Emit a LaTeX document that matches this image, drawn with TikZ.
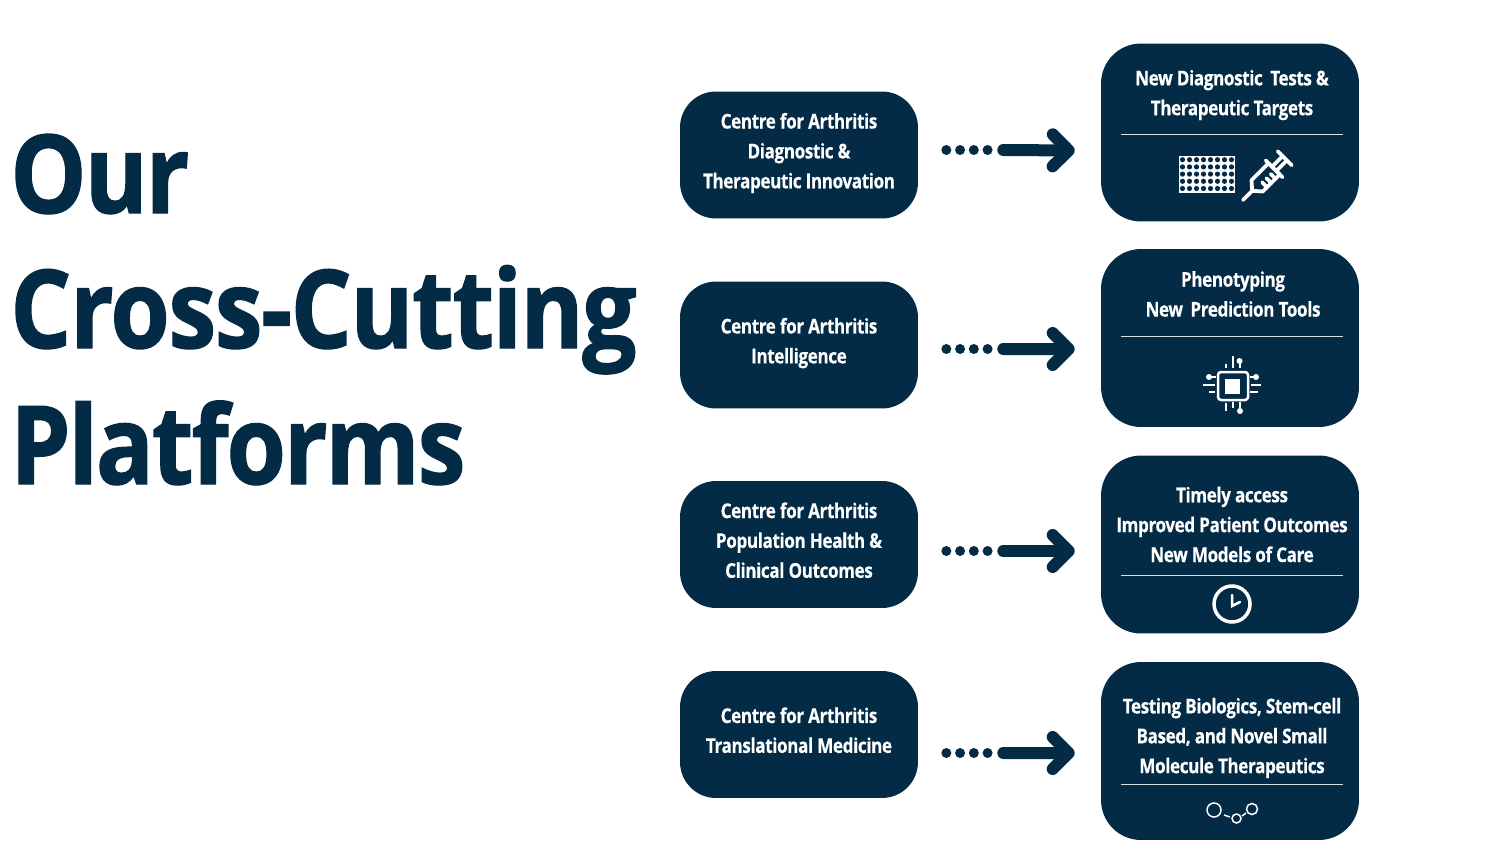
\documentclass[tikz,border=0pt]{standalone}
\usepackage{fontspec}
\setmainfont[FakeStretch=.84,LetterSpace=-2,BoldFeatures={FakeBold=.4}]{Open Sans}
\newfontfamily\titlefont[FakeStretch=.88,LetterSpace=-1.8,BoldFeatures={FakeBold=1.2}]{Open Sans}
\newfontfamily\titlewide[FakeStretch=.88,LetterSpace=-1.2,BoldFeatures={FakeBold=1.2}]{Open Sans}
\usetikzlibrary{arrows.meta}
\definecolor{navy}{HTML}{032B45}
\tikzset{
  lftbox/.style={rectangle, rounded corners=.72cm, fill=navy, text=white, align=center,
          minimum width=4.76cm, minimum height=2.54cm, text depth=5pt,
          font=\fontsize{11.6}{17}\selectfont\bfseries},
  rgtbox/.style={rectangle, rounded corners=.8cm, fill=navy,
          minimum width=5.16cm, minimum height=3.56cm},
  rgttext/.style={text=white, align=center, inner sep=0pt,
          font=\fontsize{11.6}{17}\selectfont\bfseries},
  divider/.style={draw=white!85!navy, line width=.5pt},
  dotline/.style={navy, line width=.2cm, line cap=round, dash pattern=on 0pt off .275cm},
  arrowline/.style={navy, line width=.24cm, line cap=round, -{Straight Barb[round,length=.32cm,width=.64cm]}},
  icon/.style={white, line width=.05cm},
  pin/.style={white, line width=.04cm},
  title/.style={text=navy, anchor=base west, inner sep=0pt,
          font=\fontsize{62}{76}\titlefont\bfseries}
}
\begin{document}
\begin{tikzpicture}[x=.02cm,y=-.02cm]
\useasboundingbox (0,0) rectangle (1500,865);

\node[title] (our) at (10,213) {Our};
\node[title] (cross) at (10,348) {\titlewide\bfseries Cross-Cutting};
\node[title] (plat) at (10,484) {Platforms};

\node[lftbox] (lft1) at (799,155) {Centre for Arthritis\\Diagnostic \&\\Therapeutic Innovation};
\node[lftbox] (lft2) at (799,345) {Centre for Arthritis\\Intelligence};
\node[lftbox] (lft3) at (799,544.5) {Centre for Arthritis\\Population Health \&\\Clinical Outcomes};
\node[lftbox] (lft4) at (799,734.5) {Centre for Arthritis\\Translational Medicine};

\node[rgtbox] (rgt1) at (1230,132.5) {};
\node[rgtbox] (rgt2) at (1230,338) {};
\node[rgtbox] (rgt3) at (1230,544.5) {};
\node[rgtbox] (rgt4) at (1230,751) {};

\node[rgttext] (txt1) at (1232,95) {New Diagnostic\, Tests \&\\Therapeutic Targets};
\node[rgttext] (txt2) at (1233,294) {Phenotyping\\New\, Prediction Tools};
\node[rgttext] (txt3) at (1232,524.5) {Timely access\\Improved Patient Outcomes\\New Models of Care};
\node[rgttext] (txt4) at (1232,738) {Testing Biologics, Stem-cell\\Based, and Novel Small\\Molecule Therapeutics};

\draw[divider] (1121,134) -- (1343,134);
\draw[divider] (1121,336) -- (1343,336);
\draw[divider] (1121,575) -- (1343,575);
\draw[divider] (1121,784) -- (1343,784);

% connectors
\foreach \n/\ya/\yb in {1/-.1/.36, 2/.08/.22, 3/.13/.13, 4/.37/.04}{
  \draw[dotline] ([xshift=.56cm,yshift=\ya cm*-1]lft\n.east) -- ([xshift=1.5cm,yshift=\ya cm*-1]lft\n.east);
  \draw[arrowline] ([xshift=1.7cm,yshift=\ya cm*-1]lft\n.east) -- ([xshift=-.52cm,yshift=-\yb cm]rgt\n.west);
}

% plate
\fill[white] (1179,156) rectangle (1235,193);
\foreach \i in {0,...,7}{
  \foreach \j in {0,...,4}{
    \fill[navy] (1182.5+\i*7,159.7+\j*7.2) circle (.052cm);
  }
}
% syringe
\begin{scope}[shift={(1243,200)},rotate=45,icon,line width=.075cm,line cap=round,line join=round]
  \draw (0,0) -- (13,0);
  \draw (13,0) -- (20,8) -- (44,8) -- (44,-8) -- (20,-8) -- cycle;
  \draw (44,-12) -- (44,12);
  \draw (44,-3) -- (59,-3) (44,3) -- (59,3);
  \draw (59,-10) -- (59,10);
  \draw (26,8) -- (26,1) (32,8) -- (32,1) (38,8) -- (38,1);
\end{scope}
% chip
\draw[icon,rounded corners=.06cm] (1218,372) rectangle (1248,400);
\fill[white] (1225,378.5) rectangle (1240,393.5);
\foreach \xa/\ya/\xb/\yb in {1226/364/1226/368, 1232.5/356/1232.5/368, 1239.5/361/1239.5/368,
    1225.5/403/1225.5/411, 1232.5/402/1232.5/408, 1240/402/1240/411,
    1209/377/1216/377, 1203/385/1215/385, 1209/392/1215/392,
    1250/377/1256/377, 1251/385/1261/385, 1250/392/1258/392}{
  \draw[pin] (\xa,\ya) -- (\xb,\yb);
}
\foreach \xa/\ya in {1239.5/361, 1240/411, 1209/377, 1256/377}{
  \fill[white] (\xa,\ya) circle (.06cm);
}
% clock
\draw[icon,line width=.07cm] (1232,604) circle (18);
\draw[icon,line cap=round] (1232,595) -- (1232,606) -- (1240,602);
% molecule
\draw[icon,line width=.03cm] (1214,810) circle (7);
\draw[icon,line width=.03cm] (1236.5,818.5) circle (4.5);
\draw[icon,line width=.03cm] (1252,809) circle (5.5);
\draw[icon,line width=.03cm] (1224,815) -- (1230,817);
\draw[icon,line width=.03cm] (1242,816) -- (1246,813);
\end{tikzpicture}
\end{document}
